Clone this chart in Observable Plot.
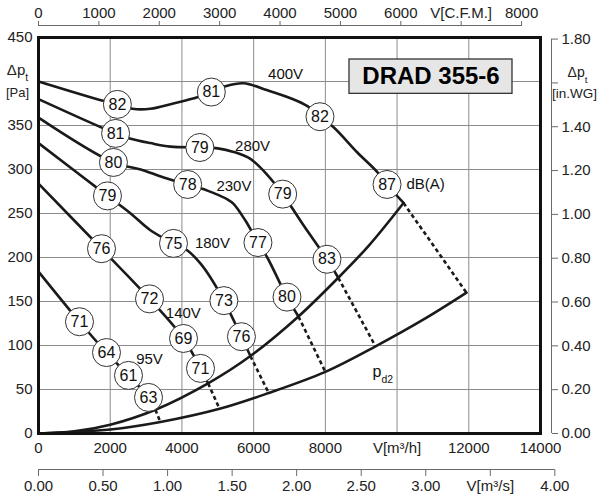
<!DOCTYPE html>
<html><head><meta charset="utf-8">
<script src="https://cdn.jsdelivr.net/npm/d3@7"></script>
<script src="https://cdn.jsdelivr.net/npm/@observablehq/plot@0.6"></script>
<style>body{margin:0;background:#fff}#chart{width:600px;height:500px}</style>
</head><body><div id="chart"></div>
<script>
// unit conversions used by the secondary axes (m3/h per CFM as drawn, Pa per in.WG, m3/h per m3/s)
const CFM = 1.684;
const INWG = 249;
const M3S = 3600;

// tick values
const flowTicks = [0, 2000, 4000, 6000, 8000, 10000, 12000, 14000];
const pressTicks = [0, 50, 100, 150, 200, 250, 300, 350, 400, 450];
const cfmTicks = [0, 1000, 2000, 3000, 4000, 5000, 6000, 7000, 8000];
const cfmLabels = ["0", "1000", "2000", "3000", "4000", "5000", "6000", "V[C.F.M.]", "8000"];
const inwgTicks = [0, 0.2, 0.4, 0.6, 0.8, 1.0, 1.2, 1.4, 1.6, 1.8];
const inwgLabels = ["0.00", "0.20", "0.40", "0.60", "0.80", "1.00", "1.20", "1.40", "", "1.80"];
const m3sTicks = [0, 0.5, 1, 1.5, 2, 2.5, 3, 3.5, 4];
const m3sLabels = ["0.00", "0.50", "1.00", "1.50", "2.00", "2.50", "3.00", "V[m³/s]", "4.00"];

// fan curves: [V m3/h, Δpt Pa]
const curve400 = [[0,400],[1800,378],[2200,374],[2620,369],[3120,369],[3760,375],[4430,382],[4820,388],[5240,395],[5720,398],[6390,390],[7030,381],[7500,372],[7850,360],[8230,348],[8900,319],[9450,297],[9720,283],[10180,262]];
const curve280 = [[0,380],[2150,341],[2570,335],[3120,330],[3680,326],[4500,325],[5000,324],[5440,320],[5910,312],[6380,294],[6810,272],[7400,236],[8045,198],[8360,177]];
const curve230 = [[0,359],[2090,308],[2850,300],[3490,291],[4160,283],[4710,276],[5270,266],[5440,261],[5770,242],[6120,217],[6380,200],[6930,155],[7250,133]];
const curve180 = [[0,330],[1924,270],[2570,250],[3120,231],[3765,216],[4155,208],[4520,193],[4800,177],[5170,151],[5660,110],[5910,88]];
const curve140 = [[0,284],[1757,210],[3096,153],[4044,108],[4518,74],[4730,57]];
const curve95  = [[0,184],[1143,127],[1896,92],[2510,66],[3068,41],[3260,27]];

// sound levels on curves: [V m3/h, Δpt Pa, dB(A)]
const noise400 = [[2200,374,82],[4820,388,81],[7850,360,82],[9720,283,87]];
const noise280 = [[2150,341,81],[4500,325,79],[6810,272,79],[8045,198,83]];
const noise230 = [[2090,308,80],[4160,283,78],[6120,217,77],[6930,155,80]];
const noise180 = [[1924,270,79],[3765,216,75],[5170,151,73],[5660,110,76]];
const noise140 = [[1757,210,76],[3096,153,72],[4044,108,69],[4518,74,71]];
const noise95  = [[1143,127,71],[1896,92,64],[2510,66,61],[3068,41,63]];

// system curves
const upperCurve = [[0,0],[1000,2.5],[2000,10],[3260,27],[4730,57],[5910,88],[7250,133],[8360,177],[9200,213],[10180,262]];
const pd2Curve = [[0,0],[2000,4.5],[3400,13],[5050,28],[6420,46],[8000,70],[9400,99],[10800,131],[11936,160]];

// dashed limit connectors
const connectors = [
  {speed:"95V",  q1:3260,  p1:27,  q2:3400,  p2:13},
  {speed:"140V", q1:4730,  p1:57,  q2:5050,  p2:28},
  {speed:"180V", q1:5910,  p1:88,  q2:6420,  p2:46},
  {speed:"230V", q1:7250,  p1:133, q2:8000,  p2:70},
  {speed:"280V", q1:8360,  p1:177, q2:9400,  p2:99},
  {speed:"400V", q1:10180, p1:262, q2:11936, p2:160}
];

// speed labels (anchored in data units)
const speedLabels = [
  {label:"400V", q:6890, p:408},
  {label:"280V", q:5970, p:327},
  {label:"230V", q:5450, p:281},
  {label:"180V", q:4850, p:216},
  {label:"140V", q:4040, p:137},
  {label:"95V",  q:3095, p:85}
];

const curves = {"400V":curve400,"280V":curve280,"230V":curve230,"180V":curve180,"140V":curve140,"95V":curve95};
const noises = {"400V":noise400,"280V":noise280,"230V":noise230,"180V":noise180,"140V":noise140,"95V":noise95};

const fanRows = Object.entries(curves).flatMap(([s, pts]) => pts.map(([q, p]) => ({speed:s, q, p})));
const noiseRows = Object.entries(noises).flatMap(([s, pts]) => pts.map(([q, p, db]) => ({speed:s, q, p, db})));
const upperRows = upperCurve.map(([q, p]) => ({q, p}));
const pd2Rows = pd2Curve.map(([q, p]) => ({q, p}));

const lookup = (keys, labels) => { const m = new Map(keys.map((k, i) => [k, labels[i]])); return d => m.get(d); };
const cfmPos = cfmTicks.map(c => c * CFM);
const inwgPos = inwgTicks.map(v => v * INWG);
const m3sPos = m3sTicks.map(v => v * M3S);

const ink = "#1a1a1a";
const grid = "#8c8c8c";
const axisGray = "#6a6a6a";

const svg = Plot.plot({
  width: 600, height: 500,
  marginLeft: 38, marginRight: 60, marginTop: 37, marginBottom: 67,
  x: {domain: [0, 14000], label: null},
  y: {domain: [0, 450], label: null},
  style: {fontFamily: "'Liberation Sans', Arial, sans-serif", fontSize: "15px", color: "#222", background: "#fff"},
  marks: [
    Plot.gridX(flowTicks.slice(1, -1), {stroke: grid, strokeOpacity: 1, strokeWidth: 1}),
    Plot.gridY(pressTicks.slice(1, -1), {stroke: grid, strokeOpacity: 1, strokeWidth: 1}),

    // main axes
    Plot.axisX(flowTicks, {anchor: "bottom", tickSize: 0, tickPadding: 9, tickFormat: d => d === 10000 ? "V[m³/h]" : String(d)}),
    Plot.axisY(pressTicks.filter(d => d !== 400), {anchor: "left", tickSize: 0, tickPadding: 6, tickFormat: d => String(d)}),

    // top CFM axis
    Plot.ruleY([450], {x1: 0, x2: 8000 * CFM, dy: -12, stroke: axisGray, strokeWidth: 1}),
    Plot.axisX(cfmPos, {anchor: "top", dy: -12, tickSize: 5, tickPadding: 3, stroke: axisGray, tickFormat: lookup(cfmPos, cfmLabels)}),

    // bottom m3/s axis
    Plot.ruleY([0], {x1: 0, x2: 4 * M3S, dy: 36, stroke: axisGray, strokeWidth: 1}),
    Plot.axisX(m3sPos, {anchor: "bottom", dy: 36, tickSize: 7, tickPadding: 4, stroke: axisGray, tickFormat: lookup(m3sPos, m3sLabels)}),

    // right in.WG axis
    Plot.ruleX([14000], {y1: 0, y2: 1.8 * INWG, dx: 11, stroke: axisGray, strokeWidth: 1}),
    Plot.axisY(inwgPos, {anchor: "right", dx: 11, tickSize: 6, tickPadding: 4, stroke: axisGray, tickFormat: lookup(inwgPos, inwgLabels)}),

    // axis titles
    Plot.text(["Δpt"], {x: 0, y: 400, dx: -21, dy: -11, fontSize: 15}),
    Plot.text(["[Pa]"], {x: 0, y: 400, dx: -21, dy: 11, fontSize: 13}),
    Plot.text(["Δpt"], {x: 14000, y: 1.6 * INWG, dx: 37, dy: -10, fontSize: 14}),
    Plot.text(["[in.WG]"], {x: 14000, y: 1.6 * INWG, dx: 34, dy: 11, fontSize: 13.5}),

    // system curves
    Plot.line(upperRows, {x: "q", y: "p", curve: "catmull-rom", stroke: ink, strokeWidth: 2.6}),
    Plot.line(pd2Rows, {x: "q", y: "p", curve: "catmull-rom", stroke: ink, strokeWidth: 2.6}),
    Plot.link(connectors, {x1: "q1", y1: "p1", x2: "q2", y2: "p2", stroke: ink, strokeWidth: 2.6, strokeDasharray: "4,3"}),

    // fan curves
    Plot.line(fanRows, {x: "q", y: "p", z: "speed", curve: "catmull-rom", stroke: ink, strokeWidth: 2.6}),

    Plot.frame({stroke: "#111", strokeWidth: 3}),

    // sound level bubbles
    Plot.dot(noiseRows, {x: "q", y: "p", r: 14, fill: "white", stroke: "#333", strokeWidth: 1}),
    Plot.text(noiseRows, {x: "q", y: "p", text: d => String(d.db), fontSize: 16, fill: "#111"}),

    // labels
    Plot.text(speedLabels, {x: "q", y: "p", text: "label", fontSize: 15, fill: "#111"}),
    Plot.text(["dB(A)"], {x: 10263, y: 283, textAnchor: "start", fontSize: 15, fill: "#111"}),
    Plot.text(["pd2"], {x: 9315, y: 70, textAnchor: "start", fontSize: 16, fill: "#111"}),

    // model box
    Plot.rect([{x1: 8673, x2: 13219, y1: 386, y2: 425}], {x1: "x1", x2: "x2", y1: "y1", y2: "y2", fill: "#e6e6e6", stroke: "#333", strokeWidth: 1.3}),
    Plot.text(["DRAD 355-6"], {x: 10946, y: 405.5, fontSize: 24, fontWeight: "bold", fill: "#000"})
  ]
});

// subscripts
d3.select(svg).selectAll("text").each(function () {
  const t = this.textContent;
  if (t === "Δpt") {
    this.textContent = "Δp";
    d3.select(this).append("tspan").attr("baseline-shift", "sub").attr("font-size", "0.7em").text("t");
  } else if (t === "pd2") {
    this.textContent = "p";
    d3.select(this).append("tspan").attr("baseline-shift", "sub").attr("font-size", "0.65em").text("d2");
  }
});

document.getElementById("chart").appendChild(svg);
</script>
</body></html>
